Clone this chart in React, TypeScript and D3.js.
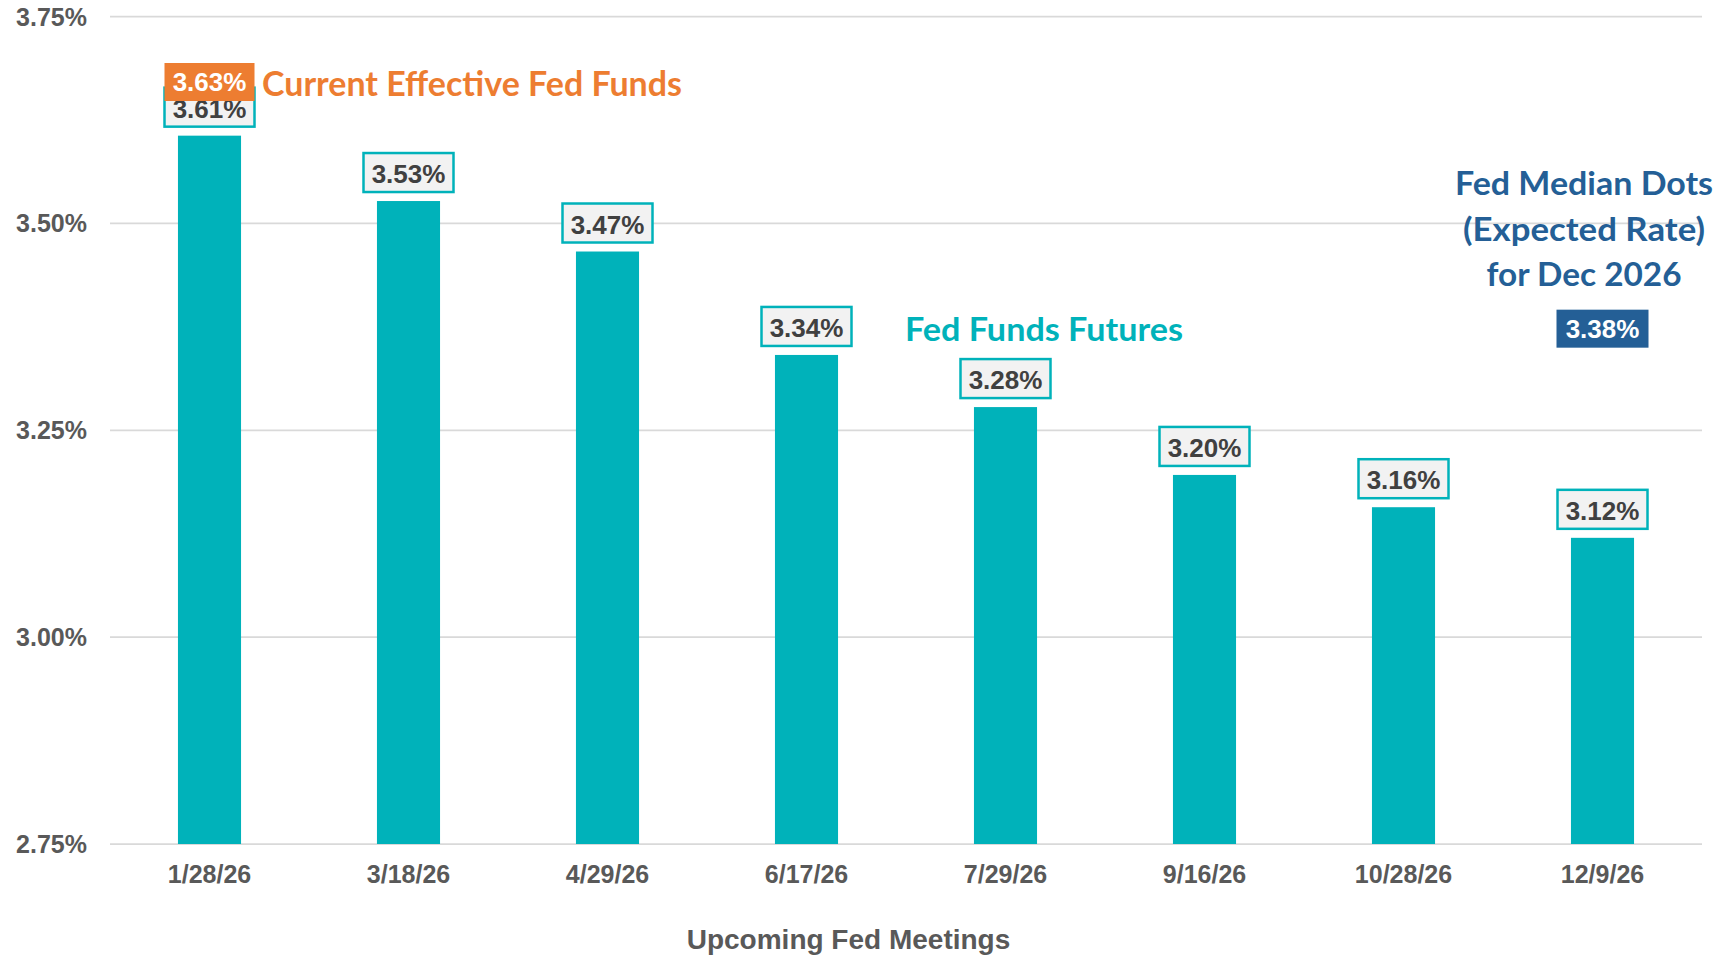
import React from "react";
import * as d3 from "d3";

const meetings = ["1/28/26", "3/18/26", "4/29/26", "6/17/26", "7/29/26", "9/16/26", "10/28/26", "12/9/26"];
const futures = [3.606, 3.527, 3.466, 3.341, 3.278, 3.196, 3.157, 3.12];
const yTicks = [2.75, 3.0, 3.25, 3.5, 3.75];
const currentEffective = 3.63;
const medianDots = 3.38;
const medianDotsLines = ["Fed Median Dots", "(Expected Rate)", "for Dec 2026"];

const W = 1719;
const H = 957;
const TEAL = "#00B2BA";
const ORANGE = "#ED7D31";
const BLUE = "#245F96";
const ARIAL = "'Liberation Sans', Arial, sans-serif";
const CAL = "Lato, 'Open Sans', sans-serif";

export default function App() {
  const x = d3.scaleBand<string>().domain(meetings).range([110, 1702]).paddingInner(0.683).paddingOuter(0.3415);
  const y = d3.scaleLinear().domain([2.75, 3.75]).range([844, 16.5]);
  const fmt = (v: number) => v.toFixed(2) + "%";
  const boxW = 90;
  const boxH = 39;
  const firstC = (x(meetings[0]) as number) + x.bandwidth() / 2;
  const lastC = (x(meetings[meetings.length - 1]) as number) + x.bandwidth() / 2;

  return (
    <svg width={W} height={H} style={{ position: "absolute", left: 0, top: 0, background: "#fff" }}>
      {yTicks.map((t) => (
        <g key={t}>
          <line x1={110} x2={1702} y1={y(t)} y2={y(t)} stroke="#D9D9D9" strokeWidth={1.75} />
          <text x={87} y={y(t) + 9} textAnchor="end" fontFamily={ARIAL} fontWeight="bold" fontSize={25} fill="#595959">
            {fmt(t)}
          </text>
        </g>
      ))}
      {futures.map((v, i) => {
        const bx = x(meetings[i]) as number;
        const cx = bx + x.bandwidth() / 2;
        const top = y(v);
        return (
          <g key={meetings[i]}>
            <rect x={bx} y={top} width={x.bandwidth()} height={y(2.75) - top} fill={TEAL} />
            <rect x={cx - boxW / 2} y={top - 9 - boxH} width={boxW} height={boxH} fill="#F2F2F2" stroke={TEAL} strokeWidth={2.5} />
            <text x={cx} y={top - 18} textAnchor="middle" fontFamily={ARIAL} fontWeight="bold" fontSize={26} fill="#404040">
              {fmt(v)}
            </text>
            <text x={cx} y={882.5} textAnchor="middle" fontFamily={ARIAL} fontWeight="bold" fontSize={25} fill="#595959">
              {meetings[i]}
            </text>
          </g>
        );
      })}
      {/* Current effective fed funds */}
      <rect x={firstC - 45} y={63} width={90} height={38} fill={ORANGE} />
      <text x={firstC} y={91} textAnchor="middle" fontFamily={ARIAL} fontWeight="bold" fontSize={26} fill="#fff">
        {fmt(currentEffective)}
      </text>
      <text x={262} y={95.5} fontFamily={CAL} fontWeight="bold" fontSize={34} fill={ORANGE} textLength={420} lengthAdjust="spacingAndGlyphs">
        Current Effective Fed Funds
      </text>
      {/* Fed funds futures label */}
      <text x={905} y={341} fontFamily={CAL} fontWeight="bold" fontSize={33} fill={TEAL} textLength={278} lengthAdjust="spacingAndGlyphs">
        Fed Funds Futures
      </text>
      {/* Median dots */}
      {medianDotsLines.map((s, i) => (
        <text key={s} x={1584} y={195 + i * 45.5} textAnchor="middle" fontFamily={CAL} fontWeight="bold" fontSize={33} fill={BLUE}
          textLength={[258, 242, 195][i]} lengthAdjust="spacingAndGlyphs">
          {s}
        </text>
      ))}
      <rect x={lastC - 46} y={y(medianDots) - 13} width={92} height={38} fill={BLUE} />
      <text x={lastC} y={y(medianDots) + 15} textAnchor="middle" fontFamily={ARIAL} fontWeight="bold" fontSize={26} fill="#fff">
        {fmt(medianDots)}
      </text>
      <text x={848.5} y={949} textAnchor="middle" fontFamily={ARIAL} fontWeight="bold" fontSize={28} fill="#595959">
        Upcoming Fed Meetings
      </text>
    </svg>
  );
}
